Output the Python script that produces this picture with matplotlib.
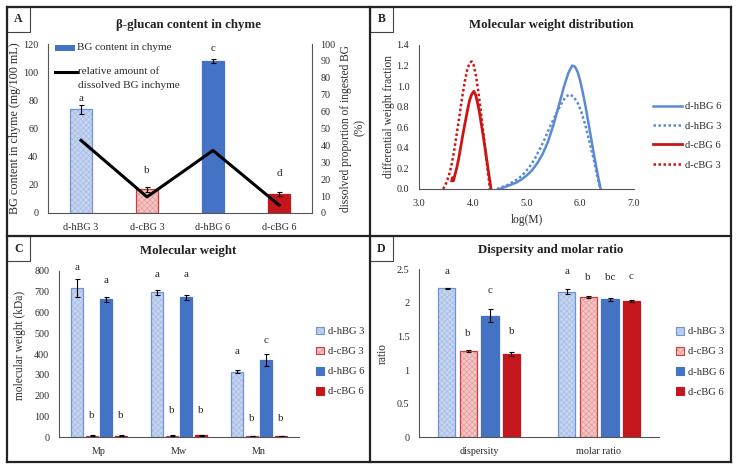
import numpy as np
import matplotlib.pyplot as plt
from matplotlib.patches import Patch, Rectangle
from matplotlib.lines import Line2D

plt.rcParams['font.family'] = ['Liberation Serif', 'DejaVu Serif']
plt.rcParams['hatch.linewidth'] = 0.5

# ---- panel A: beta-glucan content in chyme
groups_a = ['d-hBG 3', 'd-cBG 3', 'd-hBG 6', 'd-cBG 6']
bg_content = [73.5, 17.0, 108.0, 13.5]
bg_content_err = [3.0, 1.8, 1.5, 1.5]
dissolved_pct = [43.0, 9.5, 37.0, 4.7]
letters_a = ['a', 'b', 'c', 'd']

# ---- panel B: molecular weight distribution
logm_hbg6 = [4.50, 4.60, 4.70, 4.80, 4.90, 5.00, 5.10, 5.20, 5.30, 5.40, 5.50, 5.60, 5.70,
             5.78, 5.85, 5.90, 5.95, 6.00, 6.05, 6.10, 6.15, 6.20, 6.25, 6.30, 6.34, 6.38]
wf_hbg6 = [0.00, 0.02, 0.04, 0.06, 0.09, 0.13, 0.18, 0.25, 0.34, 0.46, 0.62, 0.81, 1.00,
           1.13, 1.20, 1.19, 1.14, 1.05, 0.93, 0.80, 0.65, 0.50, 0.35, 0.21, 0.10, 0.00]
logm_hbg3 = [4.45, 4.55, 4.65, 4.75, 4.85, 4.95, 5.05, 5.15, 5.25, 5.35, 5.45, 5.55, 5.65,
             5.72, 5.80, 5.87, 5.95, 6.02, 6.10, 6.18, 6.25, 6.31, 6.37]
wf_hbg3 = [0.00, 0.02, 0.04, 0.07, 0.10, 0.15, 0.21, 0.29, 0.39, 0.50, 0.62, 0.73, 0.83,
           0.89, 0.92, 0.90, 0.84, 0.75, 0.61, 0.44, 0.29, 0.14, 0.00]
logm_cbg6 = [3.61, 3.62, 3.64, 3.66, 3.70, 3.74, 3.78, 3.82, 3.86, 3.90, 3.94, 3.98, 4.02,
             4.05, 4.08, 4.12, 4.16, 4.20, 4.24, 4.27, 4.30, 4.32, 4.34]
wf_cbg6 = [0.08, 0.11, 0.08, 0.12, 0.20, 0.30, 0.42, 0.54, 0.65, 0.76, 0.86, 0.92, 0.95,
           0.92, 0.86, 0.76, 0.63, 0.50, 0.36, 0.25, 0.14, 0.07, 0.00]
logm_cbg3 = [3.45, 3.50, 3.55, 3.60, 3.65, 3.70, 3.75, 3.80, 3.85, 3.90, 3.95, 3.98, 4.02,
             4.06, 4.10, 4.14, 4.18, 4.22, 4.26, 4.29, 4.32]
wf_cbg3 = [0.00, 0.05, 0.12, 0.22, 0.36, 0.53, 0.70, 0.88, 1.04, 1.17, 1.23, 1.24, 1.20,
           1.10, 0.96, 0.80, 0.62, 0.44, 0.26, 0.13, 0.00]

# ---- panel C: molecular weight (kDa)
mw_params = ['Mp', 'Mw', 'Mn']
mw_hbg3 = [716, 696, 315]
mw_cbg3 = [7, 8, 6]
mw_hbg6 = [662, 673, 371]
mw_cbg6 = [8, 10, 6]
mw_hbg3_err = [44, 13, 8]
mw_cbg3_err = [2, 2, 1]
mw_hbg6_err = [12, 12, 27]
mw_cbg6_err = [2, 3, 1]
mw_letters = [['a', 'a', 'a'], ['b', 'b', 'b'], ['a', 'a', 'c'], ['b', 'b', 'b']]

# ---- panel D: dispersity and molar ratio
ratio_params = ['dispersity', 'molar ratio']
ratio_hbg3 = [2.215, 2.165]
ratio_cbg3 = [1.285, 2.088]
ratio_hbg6 = [1.81, 2.054]
ratio_cbg6 = [1.24, 2.03]
ratio_hbg3_err = [0.01, 0.037]
ratio_cbg3_err = [0.01, 0.01]
ratio_hbg6_err = [0.10, 0.02]
ratio_cbg6_err = [0.035, 0.02]
ratio_letters = [['a', 'a'], ['b', 'b'], ['c', 'bc'], ['b', 'c']]

series = ['d-hBG 3', 'd-cBG 3', 'd-hBG 6', 'd-cBG 6']

BLUE = '#4472c4'
RED = '#c4161c'
styles = [
    dict(face='#c5d5f0', hatchc='#a6bde6', edge='#6f93d4', hatch='xxxxxx'),
    dict(face='#f4c6c6', hatchc='#e59a9a', edge='#d23a3a', hatch='xxxxxx'),
    dict(face=BLUE, hatchc=BLUE, edge=BLUE, hatch=None),
    dict(face=RED, hatchc=RED, edge=RED, hatch=None),
]
AXC = '#555555'
TXT = '#2a2a2a'
TICK = 7.3
LAB = 8.3
LET = 8.0

W, H = 740, 470
fig = plt.figure(figsize=(W / 100, H / 100), dpi=100)


def box(l, t, r, b):
    return [l / W, 1 - b / H, (r - l) / W, (b - t) / H]


def fpt(x, y):
    return x / W, 1 - y / H


def style_ax(ax):
    for s in ['top', 'right']:
        ax.spines[s].set_visible(False)
    for s in ['left', 'bottom']:
        ax.spines[s].set_color(AXC)
        ax.spines[s].set_linewidth(0.8)
    ax.tick_params(length=0, labelsize=TICK, colors=TXT, pad=7)


def draw_bar(ax, x, h, err, st, width):
    ax.bar(x, h, width, color=st['face'], edgecolor=st['hatchc'], hatch=st['hatch'], linewidth=0)
    ax.bar(x, h, width, fill=False, edgecolor=st['edge'], linewidth=0.9)
    ax.errorbar(x, h, yerr=err, fmt='none', ecolor='black', elinewidth=0.8,
                capsize=1.8, capthick=0.8)


def handle(st):
    return (Patch(facecolor=st['face'], edgecolor=st['hatchc'], hatch=st['hatch'], linewidth=0),
            Patch(fill=False, edgecolor=st['edge'], linewidth=0.8))


# ================= A
ax_a = fig.add_axes(box(48, 44, 312, 213))
style_ax(ax_a)
xa = np.arange(len(groups_a))
for i in range(len(groups_a)):
    draw_bar(ax_a, xa[i], bg_content[i], bg_content_err[i], styles[i], 0.333)
ax_a.set_xlim(-0.5, 3.5)
ax_a.set_ylim(0, 120)
ax_a.set_yticks(range(0, 121, 20))
ax_a.set_xticks(xa)
ax_a.set_xticklabels(groups_a)
letter_y_a = [81, 30.5, 117, 28.4]
for i, l in enumerate(letters_a):
    ax_a.text(xa[i], letter_y_a[i], l, ha='center', va='center', fontsize=LET, color=TXT)

ax_a2 = ax_a.twinx()
ax_a2.plot(xa, dissolved_pct, color='black', lw=2.2)
ax_a2.set_ylim(0, 100)
ax_a2.set_yticks(range(0, 101, 10))
for s in ['top', 'left', 'bottom']:
    ax_a2.spines[s].set_visible(False)
ax_a2.spines['right'].set_color(AXC)
ax_a2.spines['right'].set_linewidth(0.8)
ax_a2.tick_params(length=0, labelsize=TICK, colors=TXT, pad=6)

# legend of panel A, laid out like the Excel original (line beside first text row)
fig.add_artist(Rectangle(fpt(55, 51), 20 / W, 6 / H, transform=fig.transFigure,
                         color=BLUE, lw=0))
fig.text(*fpt(77, 48), 'BG content in chyme', ha='left', va='center', fontsize=8.0, color=TXT)
fig.add_artist(Line2D([55 / W, 77 / W], [1 - 72 / H, 1 - 72 / H], transform=fig.transFigure,
                      color='black', lw=2.2))
fig.text(*fpt(78, 72), 'relative amount of', ha='left', va='center', fontsize=8.0, color=TXT)
fig.text(*fpt(78, 85), 'dissolved BG inchyme', ha='left', va='center', fontsize=8.0, color=TXT)

fig.text(*fpt(15, 128), 'BG content in chyme (mg/100 mL)', rotation=90,
         ha='center', va='center', fontsize=LAB + 0.4, color=TXT)
fig.text(*fpt(353, 128), 'dissolved proportion of ingested BG\n(%)', rotation=90,
         ha='center', va='center', fontsize=LAB, color=TXT, multialignment='center')

# ================= B
ax_b = fig.add_axes(box(419, 45, 634, 189))
style_ax(ax_b)
ax_b.plot(logm_hbg6, wf_hbg6, color='#5a8ad6', lw=1.8, label='d-hBG 6')
ax_b.plot(logm_hbg3, wf_hbg3, color='#5a8ad6', lw=1.8, ls=(0, (1, 1)), label='d-hBG 3')
ax_b.plot(logm_cbg6, wf_cbg6, color='#cc1414', lw=2.0, label='d-cBG 6')
ax_b.plot(logm_cbg3, wf_cbg3, color='#cc1414', lw=1.8, ls=(0, (1, 1)), label='d-cBG 3')
ax_b.set_xlim(3, 7)
ax_b.set_ylim(0, 1.4)
ax_b.set_xticks(np.arange(3, 7.01, 1.0))
ax_b.set_yticks(np.arange(0, 1.41, 0.2))
ax_b.xaxis.set_major_formatter('{x:.1f}')
ax_b.yaxis.set_major_formatter('{x:.1f}')
ax_b.legend(loc='center left', bbox_to_anchor=(1.09, 0.37), frameon=False, fontsize=7.6,
            handlelength=2.7, handletextpad=0.3, labelspacing=0.95, borderpad=0,
            borderaxespad=0, labelcolor=TXT)
fig.text(*fpt(389, 117), 'differential weight fraction', rotation=90,
         ha='center', va='center', fontsize=LAB, color=TXT)
fig.text(*fpt(527, 220), 'log(M)', ha='center', va='center', fontsize=LAB, color=TXT)

# ================= C
ax_c = fig.add_axes(box(59, 270.7, 299, 437.3))
style_ax(ax_c)
xc = np.arange(len(mw_params))
mw_vals = [mw_hbg3, mw_cbg3, mw_hbg6, mw_cbg6]
mw_errs = [mw_hbg3_err, mw_cbg3_err, mw_hbg6_err, mw_cbg6_err]
offs = [-0.27, -0.09, 0.09, 0.27]
for k in range(4):
    draw_bar(ax_c, xc + offs[k], mw_vals[k], mw_errs[k], styles[k], 0.15)
ax_c.set_xlim(-0.5, 2.5)
ax_c.set_ylim(0, 800)
ax_c.set_yticks(range(0, 801, 100))
ax_c.set_xticks(xc)
ax_c.set_xticklabels(mw_params)
letter_y_c = [[816, 782, 411], [107, 128, 91], [755, 782, 467], [107, 128, 91]]
for k in range(4):
    for j in range(3):
        ax_c.text(xc[j] + offs[k], letter_y_c[k][j], mw_letters[k][j], ha='center',
                  va='center', fontsize=LET, color=TXT, clip_on=False)
ax_c.legend([handle(s) for s in styles], series, loc='center left',
            bbox_to_anchor=(1.07, 0.455), frameon=False, fontsize=7.6, handlelength=0.75,
            handleheight=0.75, handletextpad=0.4, labelspacing=1.0, borderpad=0,
            borderaxespad=0, labelcolor=TXT)
fig.text(*fpt(20, 345), 'molecular weight (kDa)', rotation=90,
         ha='center', va='center', fontsize=LAB, color=TXT)

# ================= D
ax_d = fig.add_axes(box(419, 269.3, 659, 437.3))
style_ax(ax_d)
xd = np.arange(len(ratio_params))
r_vals = [ratio_hbg3, ratio_cbg3, ratio_hbg6, ratio_cbg6]
r_errs = [ratio_hbg3_err, ratio_cbg3_err, ratio_hbg6_err, ratio_cbg6_err]
for k in range(4):
    draw_bar(ax_d, xd + offs[k], r_vals[k], r_errs[k], styles[k], 0.145)
ax_d.set_xlim(-0.5, 1.5)
ax_d.set_ylim(0, 2.5)
ax_d.set_yticks([0, 0.5, 1, 1.5, 2, 2.5])
ax_d.set_yticklabels(['0', '0.5', '1', '1.5', '2', '2.5'])
ax_d.set_xticks(xd)
ax_d.set_xticklabels(ratio_params)
letter_y_d = [[2.47, 2.47], [1.55, 2.38], [2.19, 2.38], [1.57, 2.39]]
for k in range(4):
    for j in range(2):
        ax_d.text(xd[j] + offs[k], letter_y_d[k][j], ratio_letters[k][j], ha='center',
                  va='center', fontsize=LET, color=TXT, clip_on=False)
ax_d.legend([handle(s) for s in styles], series, loc='center left',
            bbox_to_anchor=(1.07, 0.45), frameon=False, fontsize=7.6, handlelength=0.75,
            handleheight=0.75, handletextpad=0.4, labelspacing=1.0, borderpad=0,
            borderaxespad=0, labelcolor=TXT)
fig.text(*fpt(383, 353), 'ratio', rotation=90, ha='center', va='center',
         fontsize=LAB, color=TXT)

# ================= titles, frame, panel labels
titles = [('β-glucan content in chyme', 189, 25), ('Molecular weight distribution', 551, 25),
          ('Molecular weight', 188, 251), ('Dispersity and molar ratio', 551, 250)]
for t, x, y in titles:
    fig.text(*fpt(x, y), t, ha='center', va='center', fontsize=9.3, fontweight='bold',
             color='#222222')


def fline(x0, y0, x1, y1, lw=1.6, c='#222222'):
    fig.add_artist(Line2D([x0 / W, x1 / W], [1 - y0 / H, 1 - y1 / H],
                          transform=fig.transFigure, color=c, lw=lw))


fline(7, 7, 731, 7)
fline(7, 462, 731, 462)
fline(7, 7, 7, 462)
fline(731, 7, 731, 462)
fline(370, 7, 370, 462)
fline(7, 236, 731, 236)

for lab, x0, y0 in [('A', 7, 7), ('B', 370, 7), ('C', 7, 236), ('D', 370, 236)]:
    fig.add_artist(Rectangle(fpt(x0, y0 + 25), 23 / W, 25 / H, transform=fig.transFigure,
                             fill=False, edgecolor='#444444', lw=0.8))
    fig.text(*fpt(x0 + 11.5, y0 + 12.5), lab, ha='center', va='center', fontsize=8.5,
             fontweight='bold', color='#222222')

fig.savefig('out.png', dpi=100)
